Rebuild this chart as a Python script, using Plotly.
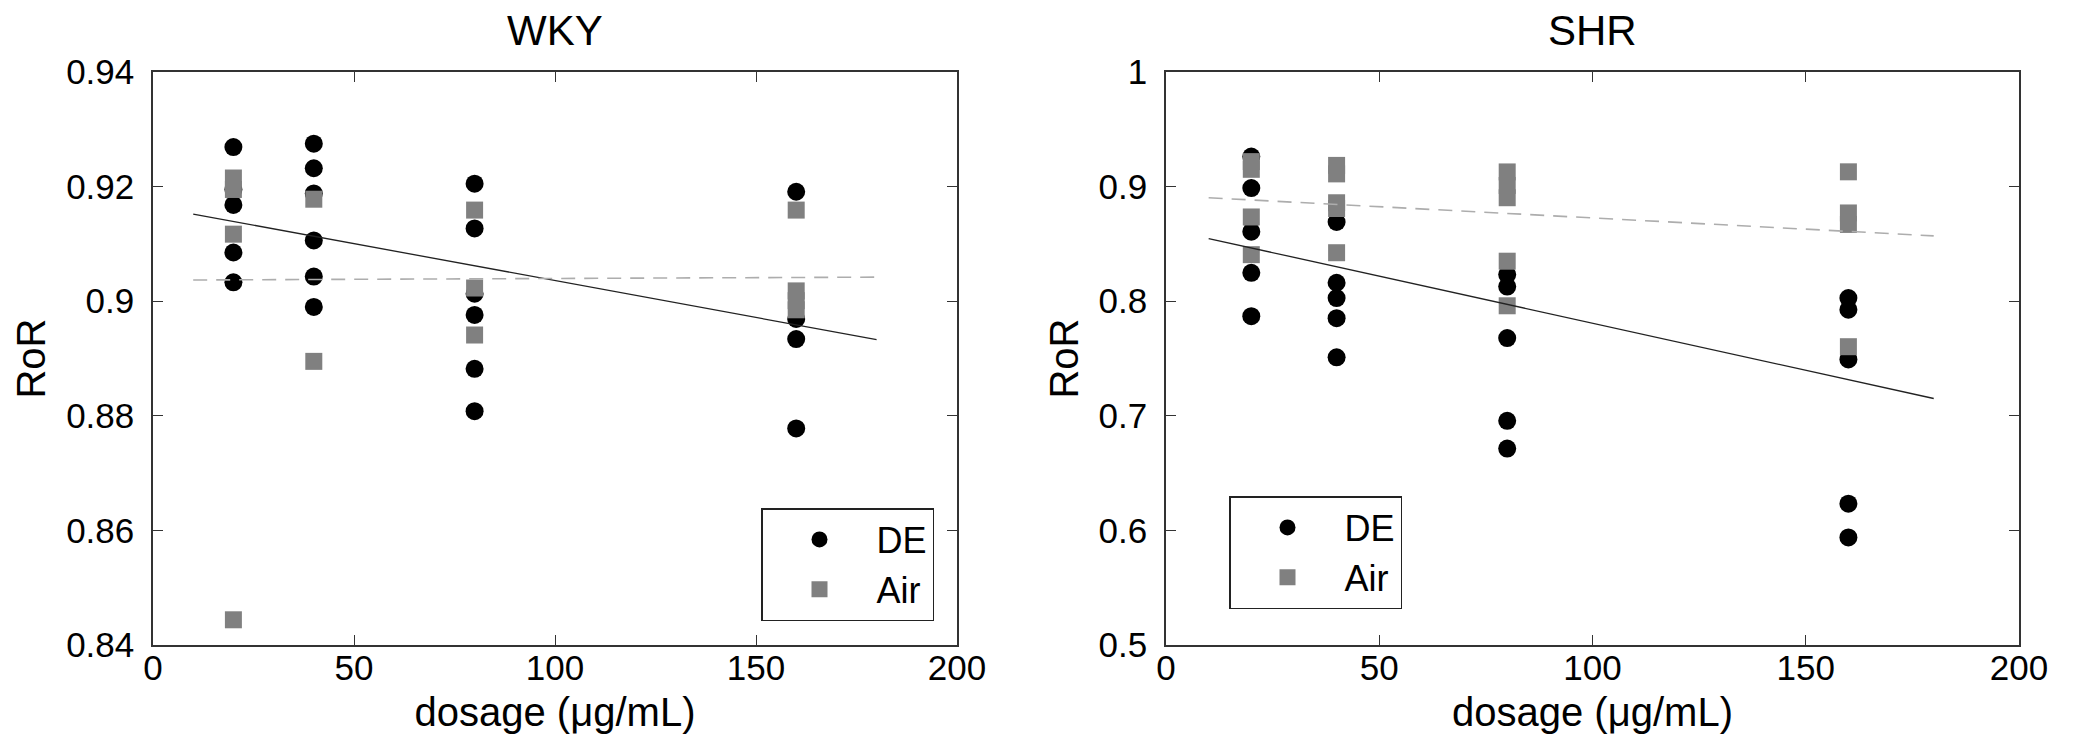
import plotly.graph_objects as go

# ---------------- data ----------------
# WKY
wky_de_x = [20, 20, 20, 20, 20, 40, 40, 40, 40, 40, 40, 80, 80, 80, 80, 80, 80, 160, 160, 160, 160]
wky_de_y = [0.9269, 0.9195, 0.9168, 0.9085, 0.9033,
            0.9275, 0.9232, 0.9188, 0.9106, 0.9043, 0.8990,
            0.9205, 0.9127, 0.9013, 0.8976, 0.8882, 0.8808,
            0.9191, 0.8969, 0.8934, 0.8778]
wky_air_x = [20, 20, 20, 20, 40, 40, 80, 80, 80, 160, 160, 160, 160]
wky_air_y = [0.9215, 0.9195, 0.9117, 0.8444,
             0.9178, 0.8895,
             0.9159, 0.9023, 0.8941,
             0.9159, 0.9018, 0.9001, 0.8985]
wky_fit_x = [10, 180]
wky_de_fit = [0.9152, 0.8933]
wky_air_fit = [0.9037, 0.9042]

# SHR
shr_de_x = [20, 20, 20, 20, 20, 40, 40, 40, 40, 40, 80, 80, 80, 80, 80, 160, 160, 160, 160, 160]
shr_de_y = [0.9262, 0.8987, 0.8607, 0.8248, 0.7869,
            0.8691, 0.8161, 0.8027, 0.7852, 0.7510,
            0.8232, 0.8128, 0.7678, 0.6956, 0.6714,
            0.8027, 0.7926, 0.7492, 0.6233, 0.5939]
shr_air_x = [20, 20, 20, 20, 40, 40, 40, 40, 40, 80, 80, 80, 80, 80, 160, 160, 160, 160]
shr_air_y = [0.9218, 0.9151, 0.8735, 0.8406,
             0.9185, 0.9111, 0.8859, 0.8809, 0.8423,
             0.9128, 0.9010, 0.8903, 0.8349, 0.7960,
             0.9129, 0.8770, 0.8670, 0.7603]
shr_fit_x = [10, 180]
shr_de_fit = [0.8547, 0.7151]
shr_air_fit = [0.8903, 0.8570]

titles = ["WKY", "SHR"]
x_ticks = [0, 50, 100, 150, 200]
wky_y_ticks = [0.84, 0.86, 0.88, 0.90, 0.92, 0.94]
shr_y_ticks = [0.5, 0.6, 0.7, 0.8, 0.9, 1.0]

# ---------------- figure ----------------
W, H = 2073, 743
FONT = "Liberation Sans, Arial, sans-serif"
fig = go.Figure()

de_marker = dict(symbol="circle", size=18, color="black")
air_marker = dict(symbol="square", size=17, color="#808080")

panels = [
    ("x", "y", "legend", wky_de_x, wky_de_y, wky_air_x, wky_air_y, wky_fit_x, wky_de_fit, wky_air_fit),
    ("x2", "y2", "legend2", shr_de_x, shr_de_y, shr_air_x, shr_air_y, shr_fit_x, shr_de_fit, shr_air_fit),
]
for xa, ya, lg, dx, dy, ax_, ay, fx, dfit, afit in panels:
    fig.add_trace(go.Scatter(x=dx, y=dy, mode="markers", marker=de_marker, name="DE",
                             xaxis=xa, yaxis=ya, legend=lg))
    fig.add_trace(go.Scatter(x=ax_, y=ay, mode="markers", marker=air_marker, name="Air",
                             xaxis=xa, yaxis=ya, legend=lg))
    fig.add_trace(go.Scatter(x=fx, y=dfit, mode="lines", line=dict(color="#222222", width=1.3),
                             showlegend=False, xaxis=xa, yaxis=ya))
    fig.add_trace(go.Scatter(x=fx, y=afit, mode="lines",
                             line=dict(color="#adadad", width=1.6, dash="14px,9px"),
                             showlegend=False, xaxis=xa, yaxis=ya))

ydom = [1 - 645 / H, 1 - 72 / H]
axis_common = dict(showline=True, linecolor="#333333", linewidth=1.5, mirror="allticks",
                   ticks="inside", ticklen=10, tickwidth=1.3, tickcolor="#333333",
                   showgrid=False, zeroline=False, automargin=False,
                   tickfont=dict(family=FONT, size=35, color="black"))
title_font = dict(family=FONT, size=40, color="black")

fig.update_layout(
    template="none",
    width=W, height=H,
    margin=dict(l=0, r=0, t=0, b=0, autoexpand=False),
    paper_bgcolor="white", plot_bgcolor="white",
    xaxis=dict(domain=[153 / W, 957 / W], range=[0, 200], tickvals=x_ticks, anchor="y",
               ticklabelstandoff=-9,
               title=dict(text="dosage (\u03bcg/mL)", font=title_font, standoff=12), **axis_common),
    yaxis=dict(domain=ydom, range=[0.84, 0.94], tickvals=wky_y_ticks, anchor="x",
               ticklabelstandoff=10,
               title=dict(text="RoR", font=title_font, standoff=8), **axis_common),
    xaxis2=dict(domain=[1166 / W, 2019 / W], range=[0, 200], tickvals=x_ticks, anchor="y2",
                ticklabelstandoff=-9,
                title=dict(text="dosage (\u03bcg/mL)", font=title_font, standoff=12), **axis_common),
    yaxis2=dict(domain=ydom, range=[0.5, 1.0], tickvals=shr_y_ticks, anchor="x2",
                ticklabelstandoff=10,
                title=dict(text="RoR", font=title_font, standoff=8), **axis_common),
    legend=dict(x=761 / W, y=1 - 508 / H, xanchor="left", yanchor="top",
                bgcolor="white", bordercolor="#222222", borderwidth=1.5,
                font=dict(family=FONT, size=36, color="black"), itemwidth=104,
                tracegroupgap=0),
    legend2=dict(x=1229 / W, y=1 - 496 / H, xanchor="left", yanchor="top",
                 bgcolor="white", bordercolor="#222222", borderwidth=1.5,
                 font=dict(family=FONT, size=36, color="black"), itemwidth=104,
                 tracegroupgap=0),
)

for i, t in enumerate(titles):
    xc = (153 + 957) / 2 / W if i == 0 else (1166 + 2019) / 2 / W
    fig.add_annotation(text=t, x=xc, y=1 - 30 / H, xref="paper", yref="paper",
                       xanchor="center", yanchor="middle", showarrow=False,
                       font=dict(family=FONT, size=42, color="black"))

fig.write_html("out.html")
